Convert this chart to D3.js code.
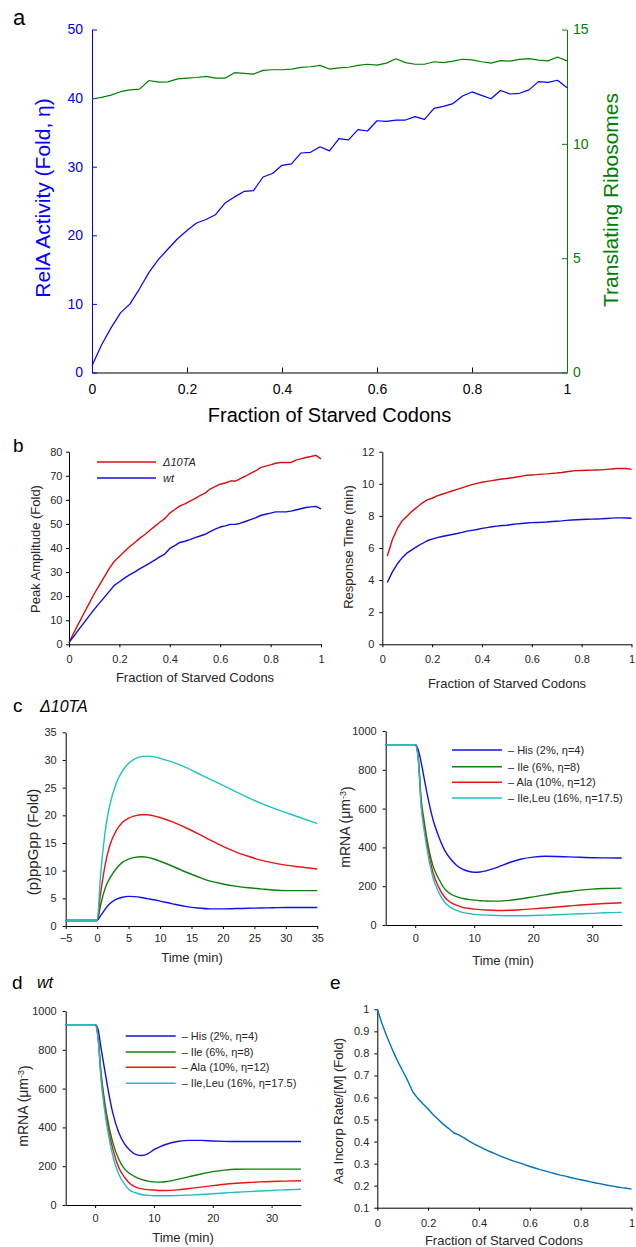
<!DOCTYPE html>
<html>
<head>
<meta charset="utf-8">
<script src="https://cdn.jsdelivr.net/npm/d3@7"></script>
<style>
body { margin: 0; background: #fff; }
</style>
</head>
<body>
<div id="chart"></div>
<script>
// ---------- data ----------
// fraction of starved codons, 0..1 in steps of 0.02
var codonFrac = d3.range(51).map(i => i / 50);

// a: RelA activity (left axis) and translating ribosomes (right axis)
var relaActivity = [1, 4, 6.5, 8.7, 10, 12.2, 14.6, 16.5, 18, 19.5, 20.7, 21.8, 22.3, 23, 24.7,
  25.6, 26.4, 26.5, 28.5, 29, 30.2, 30.4, 32, 32.1, 32.9, 32.3, 34.1, 33.9, 35.4, 35.2, 36.7,
  36.6, 36.8, 36.8, 37.3, 36.9, 38.5, 38.8, 39.2, 40.3, 40.9, 40.4, 39.9, 41.1, 40.6, 40.7,
  41.2, 42.4, 42.3, 42.6, 41.5];
var translatingRibo = [11.96, 12.03, 12.13, 12.28, 12.36, 12.39, 12.77, 12.70, 12.71, 12.84,
  12.87, 12.90, 12.95, 12.87, 12.87, 13.11, 13.08, 13.05, 13.21, 13.24, 13.24, 13.27, 13.34,
  13.37, 13.43, 13.27, 13.32, 13.35, 13.43, 13.48, 13.44, 13.53, 13.72, 13.55, 13.48, 13.48,
  13.59, 13.55, 13.62, 13.70, 13.67, 13.59, 13.53, 13.64, 13.62, 13.69, 13.73, 13.66, 13.63,
  13.80, 13.63];

// b: peak amplitude and response time, delta10TA vs wt
var peakD10TA = [0.7, 5, 9, 13, 17, 21, 24.5, 28, 31.5, 34.5, 36.5, 38.5, 40.5, 42.2, 44, 45.5,
  47.3, 49, 50.7, 52.2, 54.5, 56, 57.5, 58.3, 59.5, 60.5, 61.8, 62.8, 64.5, 65.5, 66.5, 67, 67.8,
  67.8, 68.8, 69.8, 71, 72, 73.4, 74, 74.5, 75.2, 75.5, 75.5, 75.5, 76.5, 77, 77.6, 78, 78.5, 77];
var peakWt = [0.7, 3.5, 6.3, 9, 11.8, 14.5, 17, 19.5, 22, 24.5, 26, 27.5, 28.8, 30, 31.3, 32.5,
  33.7, 35, 36.3, 37.5, 39.8, 41, 42.3, 42.8, 43.5, 44.3, 45, 45.7, 46.8, 47.8, 48.7, 49.2, 49.8,
  49.8, 50.3, 51, 51.8, 52.5, 53.5, 54, 54.5, 55, 55, 55, 55.3, 55.8, 56.3, 56.8, 57.1, 57.3, 56.3];
// response time starts at 0.02
var respD10TA = [5.5, 6.5, 7.2, 7.7, 8.0, 8.3, 8.55, 8.8, 9.0, 9.1, 9.25, 9.35, 9.45, 9.55, 9.65,
  9.75, 9.85, 9.95, 10.03, 10.1, 10.15, 10.2, 10.25, 10.3, 10.33, 10.38, 10.42, 10.48, 10.53,
  10.55, 10.57, 10.6, 10.62, 10.65, 10.67, 10.7, 10.75, 10.8, 10.82, 10.83, 10.84, 10.85, 10.86,
  10.87, 10.9, 10.92, 10.95, 10.96, 10.95, 10.9];
var respWt = [3.85, 4.5, 5.0, 5.4, 5.7, 5.9, 6.1, 6.28, 6.45, 6.55, 6.65, 6.72, 6.78, 6.84, 6.9,
  6.97, 7.05, 7.1, 7.15, 7.22, 7.27, 7.32, 7.36, 7.4, 7.42, 7.46, 7.5, 7.53, 7.56, 7.58, 7.59,
  7.6, 7.62, 7.65, 7.67, 7.69, 7.72, 7.74, 7.76, 7.78, 7.79, 7.8, 7.81, 7.82, 7.84, 7.86, 7.88,
  7.88, 7.87, 7.85];

// c left: (p)ppGpp fold, delta10TA
var timePpGpp = [-5, 0, 0.5, 1, 1.5, 2, 3, 4, 5, 6, 7, 8, 9, 10, 12, 14, 16, 18, 20, 22, 24, 26, 28, 30, 32, 35];
var ppGppHis    = [1, 1, 1.8, 2.6, 3.4, 4.0, 4.8, 5.2, 5.35, 5.3, 5.15, 4.95, 4.75, 4.5, 4.0, 3.55, 3.25, 3.1, 3.1, 3.15, 3.2, 3.25, 3.3, 3.35, 3.35, 3.35];
var ppGppIle    = [1, 1, 3.5, 5.8, 7.5, 8.6, 10.3, 11.5, 12.1, 12.4, 12.5, 12.4, 12.1, 11.7, 10.8, 9.8, 8.9, 8.1, 7.6, 7.2, 6.9, 6.7, 6.5, 6.4, 6.4, 6.4];
var ppGppAla    = [1, 1, 5.5, 9.3, 12.3, 14.5, 17.2, 18.7, 19.5, 19.9, 20.1, 20.1, 19.9, 19.6, 18.8, 17.8, 16.7, 15.5, 14.4, 13.4, 12.6, 11.9, 11.4, 11.0, 10.7, 10.3];
var ppGppIleLeu = [1, 1, 8.5, 14.5, 18.8, 21.8, 25.7, 28.0, 29.4, 30.2, 30.6, 30.7, 30.6, 30.3, 29.6, 28.7, 27.6, 26.5, 25.4, 24.3, 23.2, 22.2, 21.3, 20.5, 19.7, 18.5];

// c right / d: mRNA
var timeMrna = [-5, 0, 0.5, 1, 1.5, 2, 3, 4, 5, 6, 7, 8, 9, 10, 11, 12, 14, 16, 18, 20, 22, 24, 26, 28, 30, 32, 35];
var mrnaD10His    = [930, 930, 905, 840, 760, 680, 545, 455, 385, 340, 308, 288, 277, 272, 273, 279, 298, 322, 340, 350, 354, 353, 351, 349, 347, 346, 345];
var mrnaD10Ile    = [930, 930, 870, 650, 540, 443, 306, 237, 186, 160, 146, 137, 132, 128, 125, 124, 123, 127, 135, 145, 155, 165, 173, 180, 185, 188, 190];
var mrnaD10Ala    = [930, 930, 865, 632, 515, 418, 272, 194, 143, 117, 102, 91, 86, 82, 79, 77, 75, 76, 79, 83, 88, 93, 98, 103, 107, 111, 115];
var mrnaD10IleLeu = [930, 930, 860, 615, 490, 392, 246, 168, 117, 91, 75, 65, 59, 55, 52, 51, 49, 48, 48, 49, 51, 53, 56, 58, 60, 63, 65];
var mrnaWtHis     = [930, 930, 905, 810, 720, 630, 475, 375, 315, 280, 260, 255, 265, 285, 300, 312, 327, 333, 333, 330, 328, 327, 327, 327, 327, 327, 327];
var mrnaWtIle     = [930, 930, 870, 684, 560, 461, 323, 237, 186, 160, 143, 131, 123, 119, 118, 120, 132, 146, 160, 172, 180, 184, 185, 185, 185, 185, 185];
var mrnaWtAla     = [930, 930, 865, 667, 540, 435, 289, 194, 143, 108, 91, 83, 79, 77, 75, 75, 78, 85, 92, 100, 107, 112, 116, 119, 121, 123, 125];
var mrnaWtIleLeu  = [930, 930, 860, 650, 515, 409, 254, 160, 108, 74, 62, 53, 50, 48, 48, 48, 49, 51, 54, 58, 62, 66, 69, 72, 75, 78, 81];

var starvLabels = ["\u2013 His (2%, \u03b7=4)", "\u2013 Ile (6%, \u03b7=8)",
  "\u2013 Ala (10%, \u03b7=12)", "\u2013 Ile,Leu (16%, \u03b7=17.5)"];

// e: aa incorporation rate / [M]
var incorpRate = [1.0, 0.93, 0.87, 0.815, 0.765, 0.72, 0.675, 0.625, 0.595, 0.57, 0.548, 0.522,
  0.5, 0.478, 0.46, 0.44, 0.43, 0.418, 0.403, 0.39, 0.378, 0.367, 0.356, 0.346, 0.336, 0.327,
  0.318, 0.31, 0.303, 0.295, 0.287, 0.28, 0.273, 0.267, 0.26, 0.254, 0.248, 0.243, 0.237, 0.232,
  0.227, 0.222, 0.217, 0.212, 0.208, 0.203, 0.199, 0.195, 0.191, 0.188, 0.184];

// ---------- drawing ----------
var FONT = "'Liberation Sans', Arial, Helvetica, sans-serif";
var TXT = "#262626";
var BLUE = "#1212e8", GREEN = "#0c820c", RED = "#ec1414", CYAN = "#1ec0c4";
var starvColors = [BLUE, GREEN, RED, CYAN];
var fmt = d3.format("~g");

var svg = d3.select("#chart").append("svg")
    .attr("width", 636)
    .attr("height", 1247)
    .style("font-family", FONT);

function styleAxis(g, color, size) {
  g.attr("font-family", FONT).attr("font-size", size);
  g.selectAll("path, line").attr("stroke", color);
  g.selectAll("text").attr("fill", color === "#000" ? TXT : color);
}

function label(txt, x, y, size, opts) {
  opts = opts || {};
  var t = svg.append("text")
      .attr("x", x).attr("y", y)
      .attr("font-size", size)
      .attr("fill", opts.color || TXT)
      .attr("text-anchor", opts.anchor || "middle")
      .attr("dy", opts.dy == null ? "0.35em" : opts.dy)
      .text(txt);
  if (opts.rotate) t.attr("transform", "rotate(-90," + x + "," + y + ")");
  if (opts.italic) t.attr("font-style", "italic");
  return t;
}

function drawLine(xs, ys, x, y, color, width, curve) {
  svg.append("path")
      .datum(xs.map((d, i) => [d, ys[i]]))
      .attr("fill", "none")
      .attr("stroke", color)
      .attr("stroke-width", width)
      .attr("stroke-linejoin", "round")
      .attr("d", d3.line().x(d => x(d[0])).y(d => y(d[1])).curve(curve || d3.curveLinear));
}

// simple left/bottom panel used by b-e
function panel(o) {
  var x = d3.scaleLinear().domain(o.xDomain).range([o.left, o.right]);
  var y = d3.scaleLinear().domain(o.yDomain).range([o.bottom, o.top]);
  var gx = svg.append("g")
      .attr("transform", "translate(0," + o.bottom + ")")
      .call(d3.axisBottom(x).tickValues(o.xTicks).tickFormat(fmt)
        .tickSize(3).tickSizeOuter(0).tickPadding(o.xPad));
  styleAxis(gx, "#000", 11);
  var gy = svg.append("g")
      .attr("transform", "translate(" + o.left + ",0)")
      .call(d3.axisLeft(y).tickValues(o.yTicks).tickFormat(fmt)
        .tickSize(3).tickSizeOuter(0).tickPadding(o.yPad));
  styleAxis(gy, "#000", 11);
  return {x: x, y: y};
}

// ===== a =====
var xa = d3.scaleLinear().domain([0, 1]).range([92, 567]);
var ya = d3.scaleLinear().domain([0, 50]).range([372.5, 29.5]);
var yaR = d3.scaleLinear().domain([0, 15]).range([372.5, 29.5]);

var ax = svg.append("g").attr("transform", "translate(0,372.5)")
    .call(d3.axisBottom(xa).ticks(5).tickFormat(fmt).tickSize(-5).tickSizeOuter(0).tickPadding(12));
styleAxis(ax, "#000", 14);
ax.selectAll("text").attr("fill", "#000");
var ayL = svg.append("g").attr("transform", "translate(92,0)")
    .call(d3.axisLeft(ya).ticks(5).tickSize(-5).tickSizeOuter(0).tickPadding(9));
styleAxis(ayL, "#0000ff", 14);
var ayR = svg.append("g").attr("transform", "translate(567,0)")
    .call(d3.axisRight(yaR).ticks(3).tickSize(-5).tickSizeOuter(0).tickPadding(6));
styleAxis(ayR, "#008000", 14);

drawLine(codonFrac, translatingRibo, xa, yaR, "#008000", 1.2);
drawLine(codonFrac, relaActivity, xa, ya, "#0000ff", 1.2);

label("a", 13, 25, 22, {anchor: "start", dy: 0, color: "#000"});
label("RelA Activity (Fold, \u03b7)", 43, 198, 21, {rotate: true, color: "#0000ff"});
label("Translating Ribosomes", 611, 200, 21, {rotate: true, color: "#008000"});
label("Fraction of Starved Codons", 329.5, 415, 20, {color: "#000"});

// ===== b left =====
var fracTicks = [0, 0.2, 0.4, 0.6, 0.8, 1];
var pb1 = panel({xDomain: [0, 1], yDomain: [0, 80], left: 69, right: 321, top: 451.7, bottom: 644.3,
  xTicks: fracTicks, yTicks: d3.range(0, 81, 10), xPad: 8, yPad: 3.5});
drawLine(codonFrac, peakD10TA, pb1.x, pb1.y, "#d41010", 1.4);
drawLine(codonFrac, peakWt, pb1.x, pb1.y, "#1010d4", 1.4);
label("b", 13, 452, 19, {anchor: "start", dy: 0, color: "#000"});
label("Peak Amplitude (Fold)", 35, 549, 13, {rotate: true});
label("Fraction of Starved Codons", 195, 677, 13);

var legB = [["\u039410TA", "#d41010", 462], ["wt", "#1010d4", 478]];
legB.forEach(function(d) {
  svg.append("line").attr("x1", 97).attr("x2", 156).attr("y1", d[2]).attr("y2", d[2])
      .attr("stroke", d[1]).attr("stroke-width", 1.4);
  label(d[0], 163, d[2], 11, {anchor: "start", italic: true});
});

// ===== b right =====
var pb2 = panel({xDomain: [0, 1], yDomain: [0, 12], left: 382.3, right: 631.5, top: 451.7, bottom: 644.3,
  xTicks: fracTicks, yTicks: d3.range(0, 13, 2), xPad: 8, yPad: 5});
drawLine(codonFrac.slice(1), respD10TA, pb2.x, pb2.y, "#d41010", 1.4);
drawLine(codonFrac.slice(1), respWt, pb2.x, pb2.y, "#1010d4", 1.4);
label("Response Time (min)", 348, 547, 13, {rotate: true});
label("Fraction of Starved Codons", 507, 683, 13);

// ===== c left =====
var pc1 = panel({xDomain: [-5, 35], yDomain: [0, 35], left: 65.7, right: 317.3, top: 732.3, bottom: 926,
  xTicks: d3.range(-5, 36, 5), yTicks: d3.range(0, 36, 5), xPad: 5, yPad: 6});
[ppGppHis, ppGppIle, ppGppAla, ppGppIleLeu].forEach(function(s, i) {
  drawLine(timePpGpp, s, pc1.x, pc1.y, starvColors[i], 1.4, d3.curveMonotoneX);
});
label("c", 13, 712, 19, {anchor: "start", dy: 0, color: "#000"});
label("\u039410TA", 40, 712, 16, {anchor: "start", dy: 0, italic: true, color: "#000"});
label("(p)ppGpp (Fold)", 33, 842, 15, {rotate: true});
label("Time (min)", 192, 957, 13);

// mRNA panel helper (c right and d)
function mrnaPanel(o, series) {
  var p = panel({xDomain: [-5, 35], yDomain: [0, 1000], left: o.left, right: o.right, top: o.top,
    bottom: o.bottom, xTicks: [0, 10, 20, 30], yTicks: d3.range(0, 1001, 200), xPad: o.xPad, yPad: 6});
  series.forEach(function(s, i) {
    drawLine(timeMrna, s, p.x, p.y, starvColors[i], 1.4, d3.curveMonotoneX);
  });
  var t = svg.append("text")
      .attr("x", o.labelX).attr("y", o.labelY)
      .attr("font-size", 14).attr("fill", TXT)
      .attr("text-anchor", "middle").attr("dy", "0.35em")
      .attr("transform", "rotate(-90," + o.labelX + "," + o.labelY + ")");
  t.append("tspan").text("mRNA (\u03bcm");
  t.append("tspan").attr("dy", "-0.45em").attr("font-size", 9).text("-3");
  t.append("tspan").attr("dy", "0.45em").text(")");
  starvLabels.forEach(function(lab, i) {
    var yy = o.legY[i];
    svg.append("line").attr("x1", o.legX).attr("x2", o.legX + 50).attr("y1", yy).attr("y2", yy)
        .attr("stroke", starvColors[i]).attr("stroke-width", 1.5);
    label(lab, o.legX + 56, yy, 11, {anchor: "start"});
  });
  label("Time (min)", o.xLabelX, o.xLabelY, 13);
  return p;
}

// ===== c right =====
mrnaPanel({left: 385.7, right: 621.7, top: 731, bottom: 925, xPad: 6,
  labelX: 345, labelY: 827, legX: 452, legY: [750, 766.7, 782.3, 798],
  xLabelX: 503, xLabelY: 960},
  [mrnaD10His, mrnaD10Ile, mrnaD10Ala, mrnaD10IleLeu]);

// ===== d =====
mrnaPanel({left: 65.7, right: 301, top: 1011, bottom: 1205, xPad: 6,
  labelX: 23, labelY: 1106, legX: 125.7, legY: [1036, 1052, 1067.3, 1083.3],
  xLabelX: 183, xLabelY: 1237},
  [mrnaWtHis, mrnaWtIle, mrnaWtAla, mrnaWtIleLeu]);
label("d", 12, 989, 19, {anchor: "start", dy: 0, color: "#000"});
label("wt", 37, 988, 16, {anchor: "start", dy: 0, italic: true, color: "#000"});

// ===== e =====
var pe = panel({xDomain: [0, 1], yDomain: [0.1, 1], left: 377.3, right: 631.5, top: 1009.3, bottom: 1207.7,
  xTicks: fracTicks, yTicks: d3.range(1, 11).map(d => d / 10), xPad: 9, yPad: 5});
drawLine(codonFrac, incorpRate, pe.x, pe.y, "#0072bd", 1.4);
label("e", 330, 989, 19, {anchor: "start", dy: 0, color: "#000"});
label("Aa Incorp Rate/[M] (Fold)", 338, 1111, 13, {rotate: true});
label("Fraction of Starved Codons", 504, 1240, 13);
</script>
</body>
</html>
